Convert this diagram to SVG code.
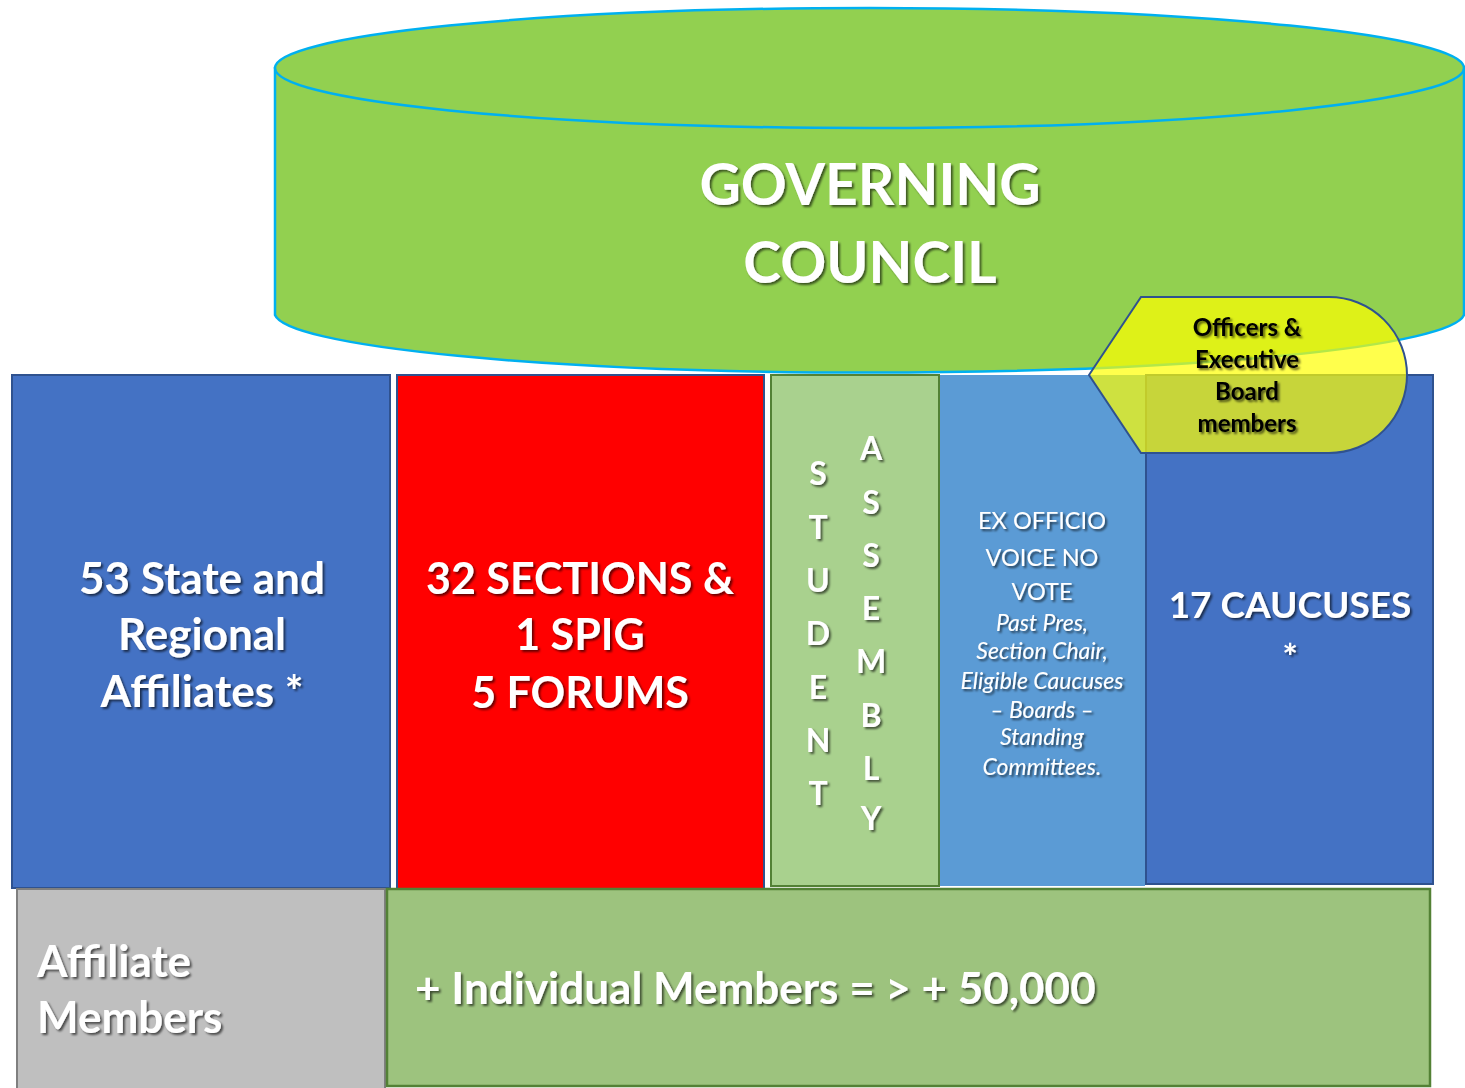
<svg xmlns="http://www.w3.org/2000/svg" width="1465" height="1088" viewBox="0 0 1465 1088">
<defs>
<filter id="sh" x="-10%" y="-10%" width="130%" height="140%">
<feDropShadow dx="2" dy="2" stdDeviation="1.2" flood-color="#000" flood-opacity="0.6"/>
</filter>
</defs>
<style>
.t{font-family:Lato,"Open Sans","Liberation Sans",sans-serif;fill:#fff;text-anchor:middle;filter:url(#sh)}
.b{font-weight:bold}
.big{font-size:44px}
.stu{font-size:32px;font-weight:bold}
.ex{font-size:23.5px}
.exi{font-size:23px;font-style:italic}
.blk{fill:#000;font-size:24px;font-weight:bold}
</style>
<rect width="1465" height="1088" fill="#fff"/>
<g id="governing-council">
<path d="M275,68 L275,315 A595,60 0 0 0 1464,315 L1464,68 Z" fill="#92D050" stroke="#00B0F0" stroke-width="2.5"/>
<ellipse cx="869.5" cy="68" rx="594.5" ry="60" fill="#92D050" stroke="#00B0F0" stroke-width="2.5"/>
<text class="t b" x="870" y="205" font-size="57">GOVERNING</text>
<text class="t b" x="870" y="283" font-size="57">COUNCIL</text>
</g>
<g id="state-affiliates">
<rect x="12" y="375" width="378" height="513" fill="#4472C4" stroke="#2F528F" stroke-width="2"/>
<text class="t b big" x="202" y="594">53 State and</text>
<text class="t b big" x="202" y="650">Regional</text>
<text class="t b big" x="202" y="707">Affiliates *</text>
</g>
<g id="sections">
<rect x="397" y="375" width="367" height="515" fill="#FF0000" stroke="#2F528F" stroke-width="2"/>
<text class="t b" font-size="43" x="580" y="594">32 SECTIONS &amp;</text>
<text class="t b" font-size="43" x="580" y="650">1 SPIG</text>
<text class="t b" font-size="43" x="580" y="708">5 FORUMS</text>
</g>
<g id="student-assembly">
<rect x="771" y="375" width="168" height="511" fill="#A9D18E" stroke="#538135" stroke-width="2"/>
<g class="t stu">
<text x="818" y="485">S</text>
<text x="818" y="539">T</text>
<text x="818" y="592">U</text>
<text x="818" y="645">D</text>
<text x="818" y="699">E</text>
<text x="818" y="752">N</text>
<text x="818" y="805">T</text>
<text x="871" y="460">A</text>
<text x="871" y="514">S</text>
<text x="871" y="567">S</text>
<text x="871" y="620">E</text>
<text x="871" y="673">M</text>
<text x="871" y="727">B</text>
<text x="871" y="780">L</text>
<text x="871" y="830">Y</text>
</g>
</g>
<g id="ex-officio">
<rect x="940" y="375" width="205" height="511" fill="#5B9BD5"/>
<g class="t">
<text class="ex" x="1042" y="529">EX OFFICIO</text>
<text class="ex" x="1042" y="566">VOICE NO</text>
<text class="ex" x="1042" y="600">VOTE</text>
<text class="exi" x="1042" y="631">Past Pres,</text>
<text class="exi" x="1042" y="659">Section Chair,</text>
<text class="exi" x="1042" y="689">Eligible Caucuses</text>
<text class="exi" x="1042" y="718">– Boards –</text>
<text class="exi" x="1042" y="745">Standing</text>
<text class="exi" x="1042" y="775">Committees.</text>
</g>
</g>
<g id="caucuses">
<rect x="1146" y="375" width="287" height="509" fill="#4472C4" stroke="#2F528F" stroke-width="2"/>
<text class="t b" x="1290" y="618" font-size="37">17 CAUCUSES</text>
<text class="t b" x="1290" y="670" font-size="37">*</text>
</g>
<g id="officers">
<path d="M1089,375 L1141,297 L1329,297 A78,78 0 0 1 1329,453 L1141,453 Z" fill="#FFFF00" fill-opacity="0.7" stroke="#2F528F" stroke-width="2"/>
<text class="t blk" x="1247" y="336">Officers &amp;</text>
<text class="t blk" x="1247" y="368">Executive</text>
<text class="t blk" x="1247" y="400">Board</text>
<text class="t blk" x="1247" y="432">members</text>
</g>
<g id="affiliate-members">
<rect x="17" y="889" width="368" height="200" fill="#BFBFBF" stroke="#7F7F7F" stroke-width="2"/>
<text class="t b big" x="37" y="977" style="text-anchor:start">Affiliate</text>
<text class="t b big" x="37" y="1033" style="text-anchor:start">Members</text>
</g>
<g id="individual-members">
<rect x="387" y="889" width="1043" height="197" fill="#9DC37E" stroke="#538135" stroke-width="2.5"/>
<text class="t b big" x="415" y="1004" style="text-anchor:start">+ Individual Members = &gt; + 50,000</text>
</g>
<g id="connectors"/>
</svg>
